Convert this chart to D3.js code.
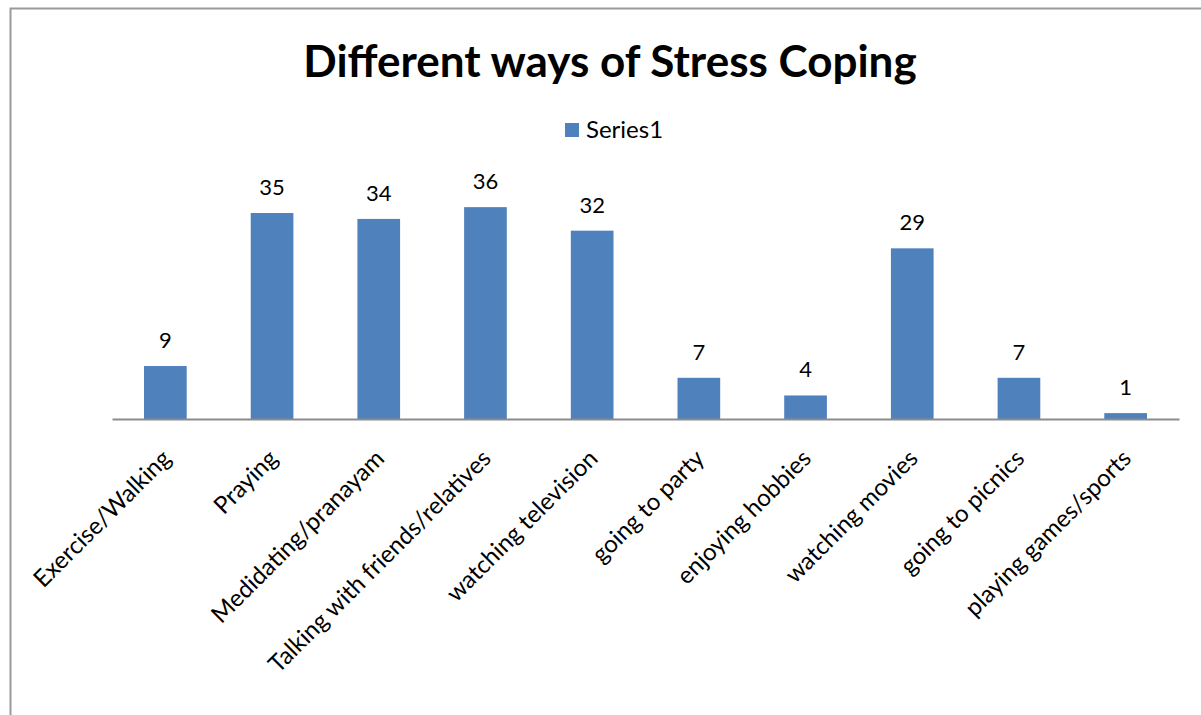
<!DOCTYPE html>
<html>
<head>
<meta charset="utf-8">
<script src="https://cdn.jsdelivr.net/npm/d3@7"></script>
<style>
  html, body { margin: 0; padding: 0; background: #fff; }
  svg { display: block; }
  text { font-family: Lato, "Open Sans", sans-serif; fill: #000; }
</style>
</head>
<body>
<svg id="chart" width="1201" height="715"></svg>
<script>
// Stress coping methods and number of respondents choosing each
const categories = [
  "Exercise/Walking", "Praying", "Medidating/pranayam",
  "Talking with friends/relatives", "watching television", "going to party",
  "enjoying hobbies", "watching movies", "going to picnics", "playing games/sports"
];
const values = [9, 35, 34, 36, 32, 7, 4, 29, 7, 1];
const seriesName = "Series1";
const titleText = "Different ways of Stress Coping";

const svg = d3.select("#chart");

// outer chart frame
svg.append("path")
  .attr("d", "M10.5,715 V8.5 H1201")
  .attr("fill", "none").attr("stroke", "#9a9a9a").attr("stroke-width", 2);

const plot = { left: 112, right: 1179, top: 183.6, bottom: 419 };

const x = d3.scaleBand().domain(categories)
  .range([plot.left, plot.right]).paddingInner(0.6).paddingOuter(0.3);
const y = d3.scaleLinear().domain([0, 40]).range([plot.bottom, plot.top]);

// title
svg.append("text")
  .attr("x", 610).attr("y", 77)
  .attr("text-anchor", "middle")
  .attr("font-size", 44).attr("font-weight", "bold")
  .text(titleText);

// legend
const legend = svg.append("g").attr("transform", "translate(565,123)");
legend.append("rect").attr("width", 14).attr("height", 14).attr("fill", "#4F81BD");
legend.append("text").attr("x", 21).attr("y", 15).attr("font-size", 24).text(seriesName);

// bars
svg.append("g").selectAll("rect").data(values).join("rect")
  .attr("x", (d, i) => x(categories[i]))
  .attr("width", x.bandwidth())
  .attr("y", d => y(d))
  .attr("height", d => y(0) - y(d))
  .attr("fill", "#4F81BD");

// value labels
svg.append("g").selectAll("text").data(values).join("text")
  .attr("x", (d, i) => x(categories[i]) + x.bandwidth() / 2)
  .attr("y", d => y(d) - 18)
  .attr("text-anchor", "middle")
  .attr("font-size", 22)
  .text(d => d);

// category axis
const xAxis = d3.axisBottom(x).tickSize(0).tickSizeOuter(0);
const gx = svg.append("g")
  .attr("transform", `translate(0,${plot.bottom})`)
  .call(xAxis);
gx.select(".domain").attr("stroke", "#8c8c8c").attr("stroke-width", 2);
gx.selectAll(".tick text")
  .attr("font-size", 24)
  .attr("font-family", "Lato, 'Open Sans', sans-serif")
  .attr("fill", "#000")
  .attr("text-anchor", "end")
  .attr("dy", 0)
  .attr("y", 0)
  .attr("transform", "translate(7,41) rotate(-45)");
</script>
</body>
</html>
